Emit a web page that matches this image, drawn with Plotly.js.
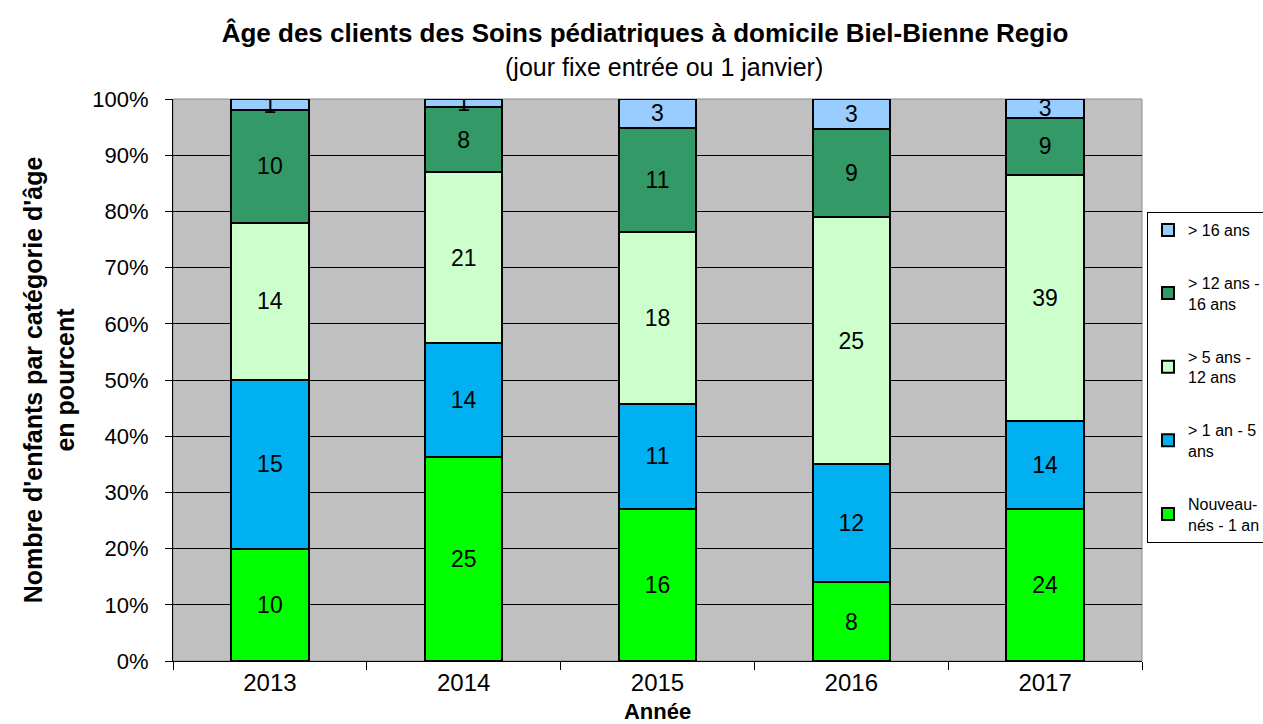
<!DOCTYPE html>
<html><head><meta charset="utf-8">
<script src="https://cdn.plot.ly/plotly-3.0.1.min.js"></script>
<style>body{margin:0;background:#fff}#chart{width:1263px;height:724px}</style>
</head><body><div id="chart"></div>
<script>
const years = ['2013','2014','2015','2016','2017'];
const seriesNames = ['Nouveau-<br>nés - 1 an','> 1 an - 5<br>ans','> 5 ans -<br>12 ans','> 12 ans -<br>16 ans','> 16 ans'];
const nouveaunes = [10,25,16,8,24];
const an1a5 = [15,14,11,12,14];
const ans5a12 = [14,21,18,25,39];
const ans12a16 = [10,8,11,9,9];
const plus16 = [1,1,3,3,3];
const colors = ['#00ff00','#00b0f0','#ccffcc','#339966','#99ccff'];
const allSeries = [nouveaunes, an1a5, ans5a12, ans12a16, plus16];
const titleText = 'Âge des clients des Soins pédiatriques à domicile Biel-Bienne Regio';
const subtitleText = '(jour fixe entrée ou 1 janvier)';

const FONT = 'Liberation Sans, Arial, sans-serif';
const traces = allSeries.map((vals,i)=>({
  type:'bar', x:years, y:vals, name:seriesNames[i],
  legendgroup:'g'+i, legendrank: 10-i,
  marker:{color:colors[i], line:{color:'#000', width:2}},
  text:vals.map(String), textposition:'inside', insidetextanchor:'middle',
  constraintext:'none', textangle:0,
  textfont:{family:FONT, size:23, color:'#000'},
  hoverinfo:'skip'
}));

const layout = {
  width:1263, height:724,
  margin:{l:173, r:121, t:99, b:63, autoexpand:false},
  paper_bgcolor:'#fff', plot_bgcolor:'#c0c0c0',
  barmode:'stack', barnorm:'percent', bargap:0.6,
  font:{family:FONT, color:'#000'},
  title:{text:'<b>'+titleText+'</b>', font:{size:26, color:'#000'},
    x:645/1263, xanchor:'center', xref:'container', y:1-33/724, yanchor:'middle', yref:'container'},
  annotations:[{text:subtitleText, xref:'paper', yref:'paper', x:(664-173)/969, y:(661-67)/562,
    xanchor:'center', yanchor:'middle', showarrow:false, font:{size:25, color:'#000'}}],
  shapes:[{type:'rect', xref:'paper', yref:'paper', x0:0, x1:1, y0:0, y1:1,
    line:{color:'#8c8c8c', width:1}, layer:'below'}],
  xaxis:{type:'category', tickson:'boundaries', ticks:'outside', ticklen:8, tickcolor:'#000',
    showline:true, linecolor:'#000', linewidth:1, tickfont:{size:24},
    title:{text:'<b>Année</b>', font:{size:22}, standoff:12}},
  yaxis:{range:[0,100], dtick:10, ticksuffix:'%', ticks:'outside', ticklen:7, tickcolor:'#000',
    showline:true, linecolor:'#000', linewidth:1, gridcolor:'#000', gridwidth:1,
    tickfont:{size:22}, zeroline:false, ticklabelstandoff:12,
    title:{text:'<b>Nombre d\'enfants par catégorie d\'âge<br>en pourcent</b>', font:{size:25}, standoff:10}},
  showlegend:true,
  legend:{x:(1147-173)/969, xanchor:'left', y:(661-212)/562, yanchor:'top', traceorder:'grouped',
    tracegroupgap:29, bgcolor:'#fff', bordercolor:'#000', borderwidth:1,
    font:{size:16}, itemwidth:30}
};
Plotly.newPlot('chart', traces, layout, {displayModeBar:false});
</script></body></html>
